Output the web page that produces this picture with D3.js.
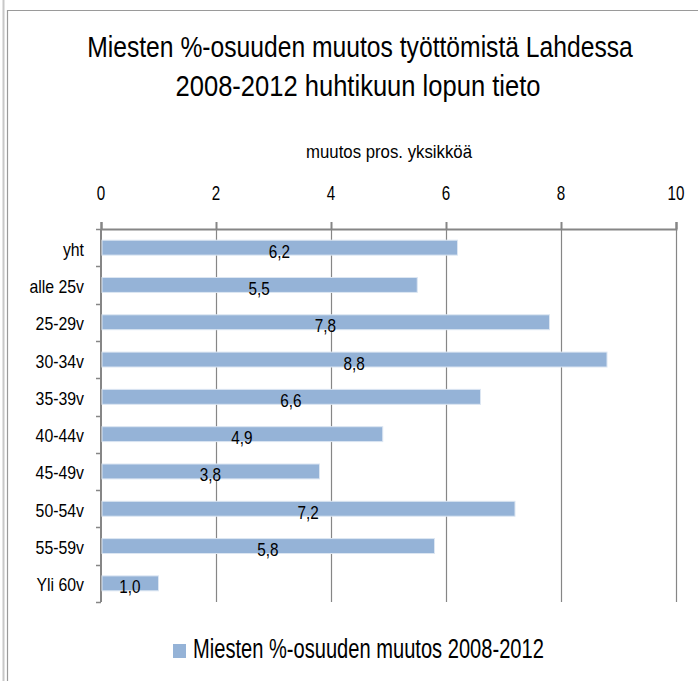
<!DOCTYPE html>
<html>
<head>
<meta charset="utf-8">
<script src="https://cdn.jsdelivr.net/npm/d3@7"></script>
<style>
  body { margin: 0; background: #fff; }
  svg text { font-family: "Liberation Sans", Arial, sans-serif; fill: #000; }
</style>
</head>
<body>
<div id="chart"></div>
<script>
// Miesten %-osuuden muutos työttömistä Lahdessa 2008-2012
const width = 698, height = 681;
const margin = {top: 229, right: 22, bottom: 79, left: 101};

const categories = ["yht", "alle 25v", "25-29v", "30-34v", "35-39v", "40-44v", "45-49v", "50-54v", "55-59v", "Yli 60v"];
const values = [6.2, 5.5, 7.8, 8.8, 6.6, 4.9, 3.8, 7.2, 5.8, 1.0];
const xTicks = [0, 2, 4, 6, 8, 10];
const seriesName = "Miesten %-osuuden muutos 2008-2012";
const titleLines = ["Miesten %-osuuden muutos työttömistä Lahdessa", "2008-2012 huhtikuun lopun tieto"];
const axisTitle = "muutos pros. yksikköä";

const barColor = "#95b3d7";
const gridColor = "#868686";

const svg = d3.select("#chart").append("svg")
  .attr("width", width).attr("height", height);

// the original font is a narrow one: squeeze text horizontally around its anchor point
function narrowText(parent, x, y, str, size, anchor, widthOrFactor, isWidth) {
  const g = parent.append("g");
  const t = g.append("text").attr("x", 0).attr("y", 0)
    .attr("text-anchor", anchor).attr("font-size", size).text(str);
  const k = isWidth ? widthOrFactor / t.node().getComputedTextLength() : widthOrFactor;
  g.attr("transform", `translate(${x},${y}) scale(${k},1)`);
  return t;
}

// outer frame lines
svg.append("line").attr("x1", 3.5).attr("x2", 3.5).attr("y1", 0).attr("y2", height)
  .attr("stroke", "#c8c8c8").attr("stroke-width", 2);
svg.append("line").attr("x1", 7.5).attr("x2", 7.5).attr("y1", 10).attr("y2", height)
  .attr("stroke", "#9a9a9a").attr("stroke-width", 1.2);
svg.append("line").attr("x1", 7).attr("x2", width).attr("y1", 10.5).attr("y2", 10.5)
  .attr("stroke", "#9a9a9a").attr("stroke-width", 1.2);

// title
narrowText(svg, 360, 57, titleLines[0], 30, "middle", 546, true);
narrowText(svg, 358, 96, titleLines[1], 30, "middle", 365, true);

const x = d3.scaleLinear().domain([0, 10]).range([margin.left, width - margin.right]);
const y = d3.scaleBand().domain(categories)
  .range([margin.top, height - margin.bottom]).paddingInner(0.6).paddingOuter(0.3);

// gridlines
svg.append("g").selectAll("line").data(xTicks.slice(1)).join("line")
  .attr("x1", d => Math.round(x(d)) + 0.5).attr("x2", d => Math.round(x(d)) + 0.5)
  .attr("y1", margin.top).attr("y2", height - margin.bottom)
  .attr("stroke", gridColor).attr("stroke-width", 1.2);

// top axis (labels drawn separately so they can be narrowed)
const xAxis = svg.append("g").attr("transform", `translate(0,${margin.top})`)
  .call(d3.axisTop(x).tickValues(xTicks).tickSize(7).tickFormat(""));
xAxis.select(".domain").attr("stroke", gridColor).attr("stroke-width", 2);
xAxis.selectAll(".tick line").attr("stroke", gridColor).attr("stroke-width", 2);
const tickLabels = svg.append("g");
xTicks.forEach(d => narrowText(tickLabels, x(d), margin.top - 29, String(d), 20, "middle", 0.76));

// axis title
narrowText(svg, 389, 158, axisTitle, 18, "middle", 166, true);

// left axis line and tick marks at band boundaries
const step = y.step();
const boundaries = d3.range(categories.length + 1).map(i => margin.top + i * step);
svg.append("line").attr("x1", margin.left).attr("x2", margin.left)
  .attr("y1", margin.top).attr("y2", height - margin.bottom)
  .attr("stroke", gridColor).attr("stroke-width", 2);
svg.append("g").selectAll("line").data(boundaries).join("line")
  .attr("x1", margin.left - 5).attr("x2", margin.left)
  .attr("y1", d => Math.round(d) + 0.5).attr("y2", d => Math.round(d) + 0.5)
  .attr("stroke", gridColor).attr("stroke-width", 1.5);

// category labels
const catLabels = svg.append("g");
categories.forEach(c => narrowText(catLabels, 84, y(c) + y.bandwidth() / 2 + 8, c, 18, "end", 0.88));

// bars
const data = categories.map((c, i) => ({cat: c, value: values[i]}));
svg.append("g").selectAll("rect").data(data).join("rect")
  .attr("x", x(0) + 1).attr("y", d => y(d.cat))
  .attr("width", d => x(d.value) - x(0) - 1).attr("height", y.bandwidth())
  .attr("fill", barColor).attr("stroke", "#dce6f2").attr("stroke-width", 1);

// value labels
const valLabels = svg.append("g");
data.forEach(d => narrowText(valLabels, (x(0) + x(d.value)) / 2, y(d.cat) + y.bandwidth() / 2 + 10,
  d3.format(".1f")(d.value).replace(".", ","), 18, "middle", 0.85));

// legend
const legend = svg.append("g").attr("transform", "translate(173,644)");
legend.append("rect").attr("x", 0).attr("y", 0).attr("width", 13).attr("height", 14).attr("fill", barColor);
narrowText(legend, 20, 14, seriesName, 27, "start", 351, true);
</script>
</body>
</html>
